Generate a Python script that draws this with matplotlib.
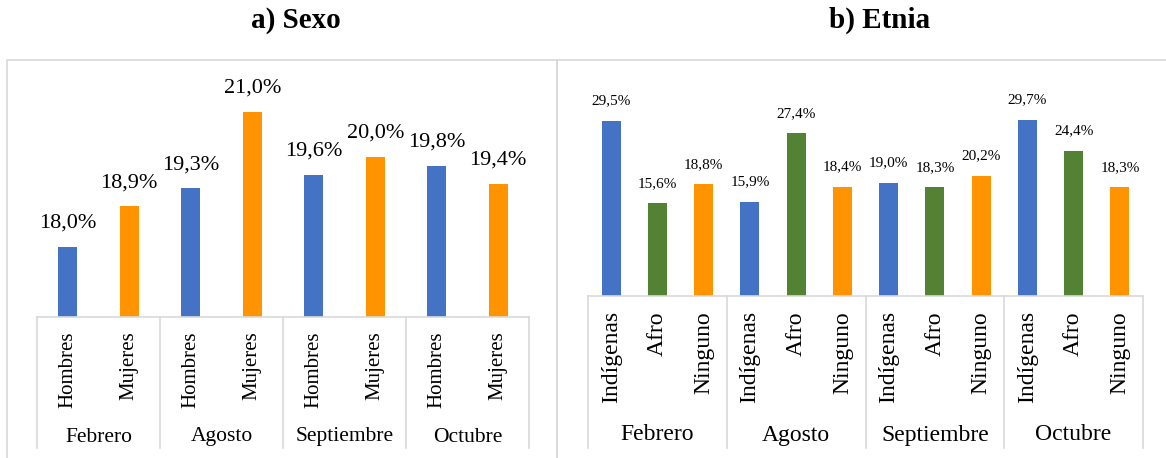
import matplotlib
matplotlib.use('Agg')
import matplotlib.pyplot as plt
from matplotlib.patches import Rectangle
from matplotlib.lines import Line2D
from matplotlib.transforms import blended_transform_factory

plt.rcParams['font.family'] = ['Liberation Serif', 'DejaVu Serif']

# datos
meses = ['Febrero', 'Agosto', 'Septiembre', 'Octubre']
sexo = ['Hombres', 'Mujeres']
sexo_vals = [18.0, 18.9, 19.3, 21.0, 19.6, 20.0, 19.8, 19.4]
etnia = ['Indígenas', 'Afro', 'Ninguno']
etnia_vals = [29.5, 15.6, 18.8, 15.9, 27.4, 18.4, 19.0, 18.3, 20.2, 29.7, 24.4, 18.3]

BLUE = '#4472C4'
ORANGE = '#FF9300'
GREEN = '#548235'
GRID = '#D9D9D9'

W, H = 1166, 458
fig = plt.figure(figsize=(W / 100, H / 100), dpi=100)


def fx(px):
    return px / W


def fy(py):
    return 1 - py / H


def panel(x0, x1, bottom_px, top_px, labels, vals, colors, bw, ylo, yhi,
          fs_lab, fs_tick, fs_mes, lab_off, tick_top, mes_y):
    ax = fig.add_axes([fx(x0), fy(bottom_px), fx(x1 - x0), (bottom_px - top_px) / H])
    n = len(labels)
    xs = list(range(len(vals)))
    cols = [colors[i % n] for i in xs]
    ax.bar(xs, [v - ylo for v in vals], bottom=ylo, width=bw, color=cols)
    ax.set_xlim(-0.5, len(vals) - 0.5)
    ax.set_ylim(ylo, yhi)
    ax.axis('off')
    for x, v in zip(xs, vals):
        ax.annotate(('%.1f%%' % v).replace('.', ','), (x, v), xytext=(0, lab_off),
                    textcoords='offset points', ha='center', va='center',
                    fontsize=fs_lab, annotation_clip=False)
    tr = blended_transform_factory(ax.transData, fig.transFigure)
    # linea base y divisores
    ax.add_line(Line2D([-0.5, len(vals) - 0.5], [fy(bottom_px)] * 2, transform=tr,
                       color=GRID, lw=1.2, clip_on=False))
    for g in range(len(meses) + 1):
        xd = g * n - 0.5
        ax.add_line(Line2D([xd, xd], [fy(bottom_px), fy(448)], transform=tr,
                           color=GRID, lw=1.2, clip_on=False))
    for x in xs:
        ax.text(x, fy(tick_top), labels[x % n], transform=tr, rotation=90,
                ha='center', va='top', fontsize=fs_tick)
    for g, m in enumerate(meses):
        ax.text(g * n + (n - 1) / 2, fy(mes_y), m, transform=tr,
                ha='center', va='center', fontsize=fs_mes)
    return ax


panel(37, 529, 317, 80, sexo, sexo_vals, [BLUE, ORANGE], 0.31, 16.45, 21.7,
      16, 15, 15.5, 17, 331, 437)
panel(588, 1143, 296, 80, etnia, etnia_vals, [BLUE, GREEN, ORANGE], 0.41, 0, 36.4,
      11, 17, 17, 14.5, 311, 435)

# marcos
fig.add_artist(Rectangle((fx(7), fy(470)), fx(550), fy(60) - fy(470),
                         transform=fig.transFigure, fill=False, ec=GRID, lw=1.2))
fig.add_artist(Rectangle((fx(557), fy(470)), fx(620), fy(60) - fy(470),
                         transform=fig.transFigure, fill=False, ec=GRID, lw=1.2))

fig.text(fx(296), fy(20), 'a) Sexo', ha='center', va='center', fontsize=21, fontweight='bold')
fig.text(fx(880), fy(20), 'b) Etnia', ha='center', va='center', fontsize=21, fontweight='bold')

fig.savefig('out.png', dpi=100)
